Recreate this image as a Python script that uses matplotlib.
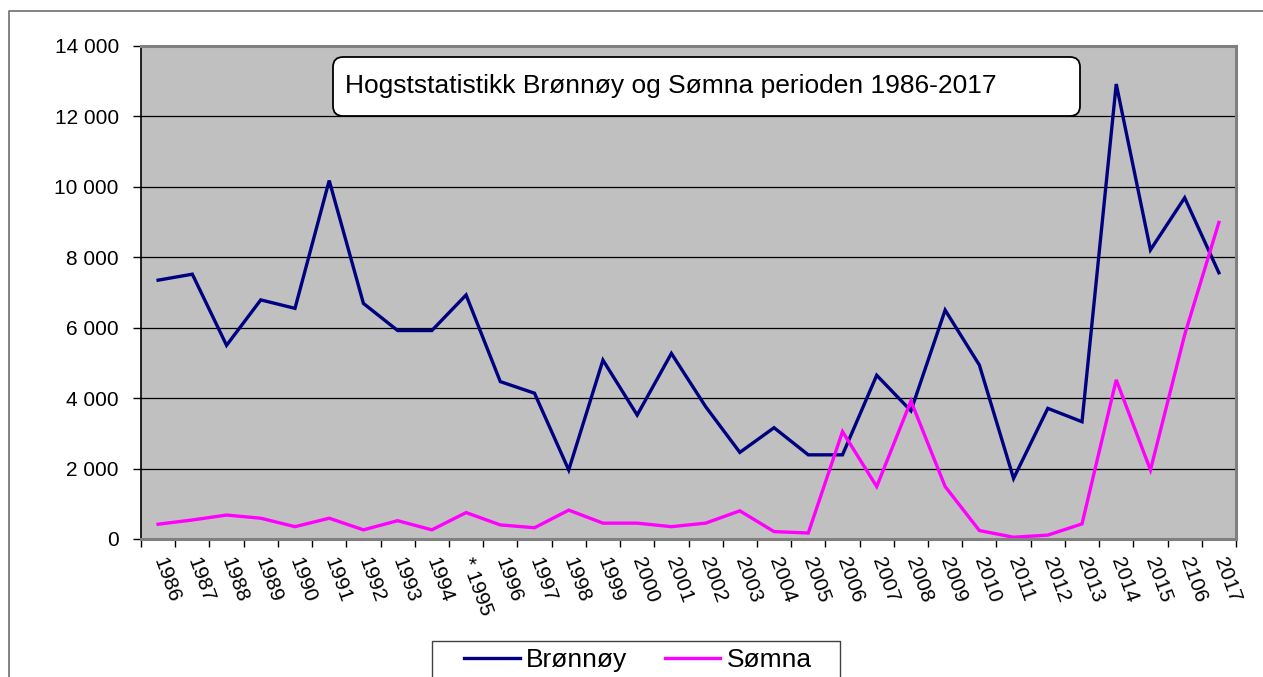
import matplotlib
matplotlib.use('Agg')
import matplotlib.pyplot as plt
from matplotlib.patches import FancyBboxPatch, Rectangle
from matplotlib.lines import Line2D
from matplotlib.ticker import FuncFormatter, FixedLocator
import numpy as np

plt.rcParams['font.family'] = ['Liberation Sans', 'DejaVu Sans']

years = ['1986', '1987', '1988', '1989', '1990', '1991', '1992', '1993', '1994', '* 1995',
         '1996', '1997', '1998', '1999', '2000', '2001', '2002', '2003', '2004', '2005',
         '2006', '2007', '2008', '2009', '2010', '2011', '2012', '2013', '2014', '2015',
         '2106', '2017']

bronnoy = [7350, 7520, 5500, 6790, 6550, 10180, 6690, 5920, 5920, 6930,
           4470, 4140, 1960, 5080, 3520, 5270, 3760, 2460, 3160, 2390,
           2390, 4650, 3640, 6500, 4940, 1720, 3710, 3330, 12920, 8210,
           9690, 7560]

somna = [420, 540, 680, 590, 350, 590, 260, 520, 260, 750,
         400, 320, 820, 450, 450, 350, 450, 800, 210, 170,
         3050, 1490, 3920, 1490, 240, 50, 110, 430, 4520, 1960,
         5800, 8990]

title = "Hogststatistikk Brønnøy og Sømna perioden 1986-2017"

W, H = 1263, 677
fig = plt.figure(figsize=(W / 100, H / 100), dpi=100)
fig.patch.set_facecolor('white')


def fx(px):
    return px / W


def fy(py):
    return 1 - py / H


# outer chart border (only top/left visible in the crop)
fig.add_artist(Line2D([fx(9), fx(9), fx(1265)], [fy(700), fy(11), fy(11)],
                      transform=fig.transFigure, color='#6e6e6e', lw=1.2))

ax = fig.add_axes([fx(141), fy(539), fx(1236) - fx(141), fy(46) - fy(539)])
ax.set_facecolor('#c0c0c0')

x = np.arange(len(years))
ax.plot(x, bronnoy, color='#000080', lw=2.4, label='Brønnøy', solid_joinstyle='miter')
ax.plot(x, somna, color='#ff00ff', lw=2.4, label='Sømna', solid_joinstyle='miter')

ax.set_xlim(-0.5, len(years) - 0.5)
ax.set_ylim(0, 14000)
ax.set_yticks(np.arange(0, 14001, 2000))
ax.yaxis.set_major_formatter(FuncFormatter(lambda v, p: '{:,}'.format(int(v)).replace(',', ' ')))
ax.grid(axis='y', color='black', lw=0.9)
ax.set_axisbelow(True)

ax.set_xticks(x)
ax.set_xticklabels(years, rotation=-70, rotation_mode='anchor', ha='left', va='center')
ax.xaxis.set_minor_locator(FixedLocator(np.arange(-0.5, len(years), 1)))
ax.tick_params(axis='x', which='major', length=0, pad=14, labelsize=15)
ax.tick_params(axis='x', which='minor', length=6, width=1, color='black')
ax.tick_params(axis='y', which='major', length=6, width=1, pad=10, labelsize=15)

for side in ['top', 'right']:
    ax.spines[side].set_color('#808080')
    ax.spines[side].set_linewidth(2.2)
ax.spines['left'].set_color('black')
ax.spines['left'].set_linewidth(1.2)
ax.spines['bottom'].set_color('#808080')
ax.spines['bottom'].set_linewidth(2.2)

# title box
fig.add_artist(FancyBboxPatch((fx(333), fy(116)), fx(1080) - fx(333), fy(57) - fy(116),
                              boxstyle='round,pad=0,rounding_size=' + str(10 / W),
                              transform=fig.transFigure, facecolor='white',
                              edgecolor='black', lw=1.3, mutation_aspect=W / H))
fig.text(fx(345), fy(86), title, fontsize=19, va='center', ha='left')

# legend
fig.add_artist(Rectangle((fx(432), fy(700)), fx(840) - fx(432), fy(641) - fy(700),
                         transform=fig.transFigure, facecolor='white',
                         edgecolor='#404040', lw=1.0))
leg = fig.legend(loc='center', bbox_to_anchor=(fx(638), fy(660)), ncol=2, frameon=False,
                 fontsize=19, handlelength=2.1, handletextpad=0.25, columnspacing=1.4,
                 borderpad=0)

fig.savefig('out.png', dpi=100)
